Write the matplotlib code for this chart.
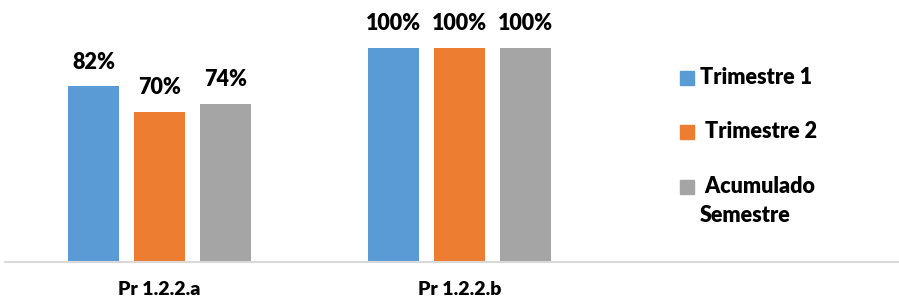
import matplotlib.pyplot as plt
import numpy as np

# data
categories = ["Pr 1.2.2.a", "Pr 1.2.2.b"]
series = ["Trimestre 1", " Trimestre 2", " Acumulado\nSemestre"]
values = [[0.82, 1.00], [0.70, 1.00], [0.74, 1.00]]
colors = ["#5B9BD5", "#ED7D31", "#A5A5A5"]

plt.rcParams['font.family'] = ['Lato', 'DejaVu Sans']
W = 'heavy'

fig = plt.figure(figsize=(8.99, 3.03), dpi=100)
ax = fig.add_axes([5/899, 41/303, 894/899, 262/303])

x = np.arange(len(categories))
step = 0.22
width = 0.1733
for i, (vals, c) in enumerate(zip(values, colors)):
    bars = ax.bar(x + (i - 1) * step, vals, width, color=c)
    for b, v in zip(bars, vals):
        ax.annotate(f"{v:.0%}", (b.get_x() + b.get_width() / 2, v),
                    xytext=(0, 10), textcoords="offset points",
                    ha="center", va="bottom", fontsize=15.5, fontweight=W)

ax.set_xlim(-0.515, 2.465)
ax.set_ylim(0, 1.224)
ax.set_yticks([])
ax.set_xticks(x)
ax.set_xticklabels(categories, fontsize=14, fontweight=W)
ax.tick_params(axis="x", length=0, pad=14)
for s in ["top", "right", "left"]:
    ax.spines[s].set_visible(False)
ax.spines["bottom"].set_color("#D9D9D9")
ax.spines["bottom"].set_linewidth(1.5)

# legend drawn by hand to keep the spacing of the original
rows_y = [77.5, 132, 187]
for name, c, yy in zip(series, colors, rows_y):
    fig.patches.append(plt.Rectangle((680/899, 1 - (yy + 7)/303), 14/899, 14/303,
                                     transform=fig.transFigure, color=c))
    fig.text(700/899, 1 - (yy - 11)/303, name, fontsize=15.5, fontweight=W,
             va="top", ha="left", linespacing=1.5)

fig.savefig("out.png", dpi=100)
